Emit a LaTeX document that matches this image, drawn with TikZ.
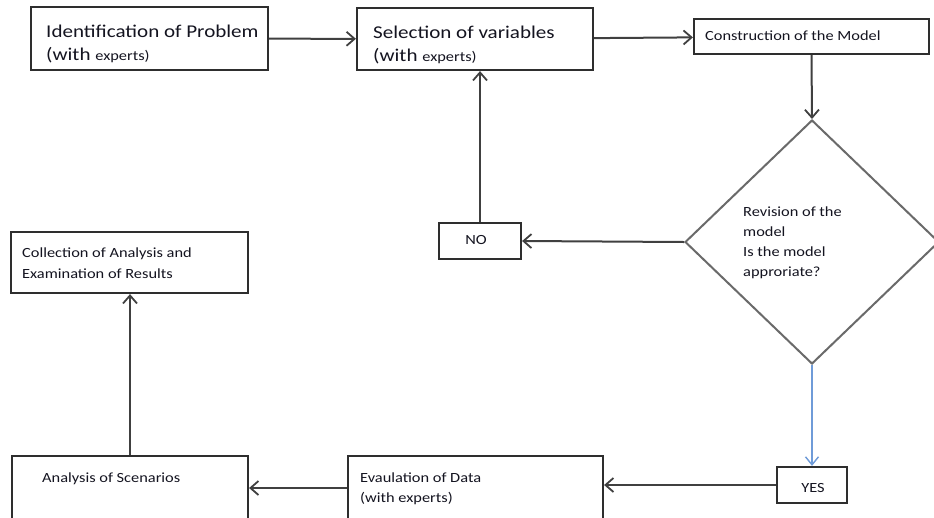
\documentclass[tikz,border=0pt]{standalone}
\usepackage{fontspec}
\setmainfont{Carlito}[FakeStretch=1.17]
\usetikzlibrary{arrows.meta,shapes.geometric}
\definecolor{boxc}{HTML}{2E2E2E}
\definecolor{arrc}{HTML}{404040}
\definecolor{diac}{HTML}{6A6A6A}
\definecolor{bluec}{HTML}{6F9BD8}
\definecolor{txtc}{HTML}{141420}
\newcommand{\bigtxt}{\fontsize{18}{22}\selectfont}
\newcommand{\regtxt}{\fontsize{14}{17}\selectfont}
\begin{document}
\begin{tikzpicture}[x=1pt,y=-1pt,
  box/.style={draw=boxc, line width=2.2pt, fill=white, inner sep=0pt},
  lbl/.style={anchor=base west, inner sep=0pt, text=txtc, font=\regtxt},
  biglbl/.style={anchor=base west, inner sep=0pt, text=txtc, font=\bigtxt},
  arr/.style={draw=arrc, line width=2pt, -{Straight Barb[length=8pt,width=14pt,line width=1.8pt]}},
  bluearr/.style={draw=bluec, line width=1.5pt, -{Straight Barb[length=8pt,width=13pt,line width=1.4pt]}}
]
\useasboundingbox (0,0) rectangle (934,517);
\clip (0,0) rectangle (934,517);
\fill[white] (0,0) rectangle (934,517);

% boxes
\node[box, minimum width=237pt, minimum height=63pt] (b1) at (149.5,38.5) {};
\node[box, minimum width=236pt, minimum height=62pt] (b2) at (475,39) {};
\node[box, minimum width=235pt, minimum height=35pt] (b3) at (811.5,36.5) {};
\node[diamond, draw=diac, line width=2pt, fill=white, inner sep=0pt,
      minimum width=254pt, minimum height=244pt] (d) at (812,242) {};
\node[box, minimum width=82pt, minimum height=36pt] (no) at (480,241) {};
\node[box, minimum width=237pt, minimum height=61pt] (c) at (129.5,262.5) {};
\node[box, minimum width=236pt, minimum height=64pt] (a) at (130,488) {};
\node[box, minimum width=255pt, minimum height=64pt] (e) at (475.5,488) {};
\node[box, minimum width=70pt, minimum height=36pt] (yes) at (812,485) {};

% texts
\node[biglbl] (t1a) at (46,37) {Identification of Problem};
\node[biglbl] (t1b) at (46,60) {(with {\regtxt experts)}};
\node[biglbl] (t2a) at (373,38) {Selection of variables};
\node[biglbl] (t2b) at (373,61) {(with {\regtxt experts)}};
\node[lbl] (t3) at (705,40) {Construction of the Model};
\node[lbl] (td1) at (743,216) {Revision of the};
\node[lbl] (td2) at (743,236) {model};
\node[lbl] (td3) at (743,256) {Is the model};
\node[lbl] (td4) at (743,276) {approriate?};
\node[inner sep=0pt, text=txtc, font=\regtxt] (tno) at (476,240) {NO};
\node[lbl] (tc1) at (22,257) {Collection of Analysis and};
\node[lbl] (tc2) at (22,278) {Examination of Results};
\node[lbl] (ta) at (42,482) {Analysis of Scenarios};
\node[lbl] (te1) at (360,482) {Evaulation of Data};
\node[lbl] (te2) at (360,502) {(with experts)};
\node[inner sep=0pt, text=txtc, font=\regtxt] (tyes) at (813,488) {YES};

% connectors
\draw[arr] (b1) -- (b2);
\draw[arr] (b2) -- (b3);
\draw[arr] (b3.south) -- (d.north);
\draw[arr] (d.west) -- (no.east);
\draw[arr] (no.north) -- (no.north |- b2.south);
\draw[bluearr] (d.south) -- (yes.north);
\draw[arr] (yes.west) -- (yes.west -| e.east);
\draw[arr] (e.west) -- (e.west -| a.east);
\draw[arr] (a.north) -- (a.north |- c.south);
\end{tikzpicture}
\end{document}
